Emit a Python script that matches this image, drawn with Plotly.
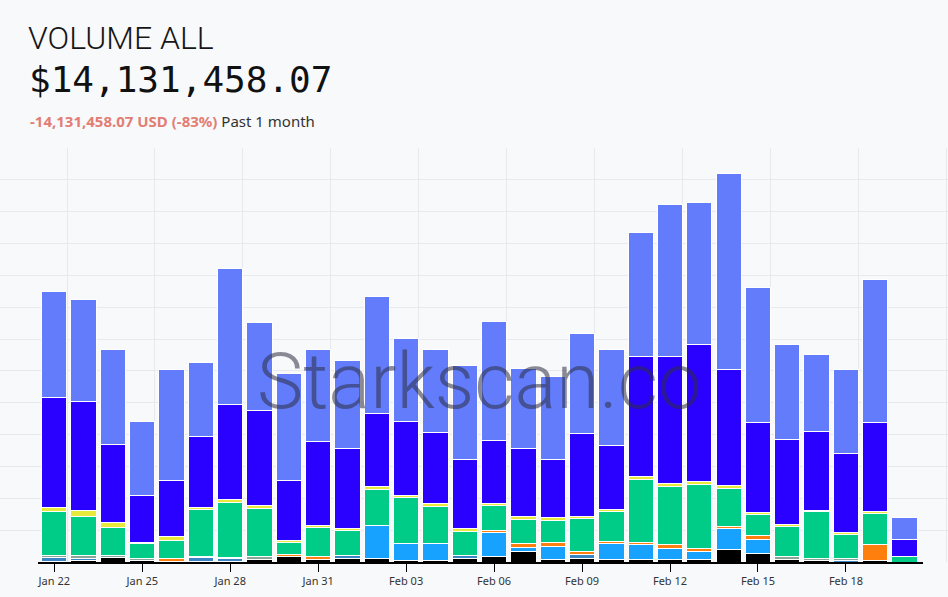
import plotly.graph_objects as go
import pandas as pd

# ---------------- data (thousand USD per day) ----------------
dates = pd.date_range("2024-01-22", "2024-02-20", freq="D")

black = [2, 3.4, 9.4, 4, 2, 2, 2, 6, 10.6, 6, 7, 7.4, 4, 3, 7.4, 11.4, 22, 5.4, 7.4, 6,
         5.4, 5.4, 5.4, 25.4, 17.4, 6, 4, 0, 4, 0]
steel = [8, 4.6, 0, 0, 0, 6.6, 5.4, 0, 0, 0, 7, 0, 0, 0, 5.2, 0, 0, 0, 8.6, 0,
         0, 0, 0, 0, 0, 0, 0, 4, 0, 0]
sky = [0, 0, 0, 0, 0, 0, 0, 0, 0, 0, 0, 65.2, 32.4, 35, 0, 47.2, 6.4, 26, 0, 30.6,
       30, 22, 15.2, 42, 28, 0, 0, 0, 0, 0]
orange = [0, 0, 0, 0, 5.4, 0, 0, 0, 5.4, 4.6, 0, 0, 0, 0, 0, 5.4, 8, 7.2, 4.6, 4,
          3.2, 8, 6.8, 3.2, 8.6, 0, 0, 0, 31.4, 0]
gray = [4, 5.4, 4.6, 3.4, 0, 2, 2.6, 4.6, 0, 0, 0, 0, 0, 0, 0, 0, 0, 0, 0, 0,
        0, 0, 0, 0, 0, 4.6, 3.4, 3.4, 0, 0]
green = [86.6, 78.6, 55.4, 30.6, 36.6, 95.4, 110, 96.8, 22.6, 58.8, 50, 73.4, 92.6, 73.4, 49.4,
         50, 49, 45.4, 66.8, 60, 127.4, 116.6, 128, 76.8, 42, 60, 93.2, 48.6, 62, 10.6]
yellow = [8, 11.4, 10, 1.4, 6.6, 2.6, 5.4, 5.2, 4, 3.6, 3, 4.6, 5, 6, 5.4, 3.4, 5.2, 4.6, 4.6, 4.8,
          4.6, 5.4, 5.2, 5.2, 2.6, 4.8, 3.4, 3.4, 4.6, 0]
dark = [220, 218, 155.2, 94.6, 113.4, 143.4, 190, 191.4, 121.4, 167.6, 161, 146.8, 148, 142, 138.6,
        126.6, 136.8, 117.4, 165.4, 127.2, 240, 254.6, 274.8, 233.4, 180, 170, 157.4, 157.2, 178, 34.6]
light = [212, 204, 191.4, 146.6, 221.4, 147.4, 272.6, 176, 213.4, 184.8, 174.6, 233.2, 165.4, 166.6, 188,
         236.6, 160, 166, 200, 193.4, 248.8, 304, 284, 390.6, 271.4, 189.2, 154, 168.8, 286, 43.4]

series = [
    ("black", black, "#000000"),
    ("steel", steel, "#3a86c4"),
    ("sky", sky, "#17a2ff"),
    ("orange", orange, "#ff7f0e"),
    ("gray", gray, "#88a596"),
    ("green", green, "#00cc88"),
    ("yellow", yellow, "#e9e93c"),
    ("dark", dark, "#2a00ff"),
    ("light", light, "#627cfb"),
]

title = "VOLUME ALL"
total_text = "$14,131,458.07"
change_text = "-14,131,458.07 USD (-83%)"
period_text = "Past 1 month"
watermark = "Starkscan.co"

# ---------------- geometry helpers (layout only) ----------------
W, H = 948, 597
M_T, M_B = 148, 35
PLOT_H = H - M_T - M_B
PX_PER_DAY = 29.32
X0_PX = 54.3  # pixel of first date
day0 = pd.Timestamp("2024-01-22")


def px2date(px):
    return (day0 + pd.Timedelta(days=(px - X0_PX) / PX_PER_DAY)).strftime("%Y-%m-%d %H:%M:%S")


def ypaper(px):
    return (H - M_B - px) / PLOT_H


YMAX = 828
GRID = YMAX / 13
DAY_MS = 86400000

fig = go.Figure()
# empty trace to own the full-width grid subplot
fig.add_trace(go.Scatter(x=[], y=[], xaxis="x", yaxis="y", showlegend=False, hoverinfo="skip"))

for name, vals, col in series:
    fig.add_trace(go.Bar(
        x=dates, y=vals, name=name, xaxis="x2", yaxis="y2",
        marker=dict(color=col, line=dict(color="white", width=1)),
        showlegend=False,
    ))

grid_col = "#e7e9ef"
fig.update_layout(
    width=W, height=H,
    margin=dict(l=0, r=0, t=M_T, b=M_B, pad=0),
    paper_bgcolor="#f8f9fb",
    plot_bgcolor="rgba(0,0,0,0)",
    barmode="stack",
    bargap=0.137,
    showlegend=False,
    xaxis=dict(domain=[0, 1], anchor="y", type="date",
               range=[px2date(0), px2date(W)],
               showgrid=True, gridcolor=grid_col, gridwidth=1,
               tick0="2024-01-22 10:24:00", dtick=3 * DAY_MS,
               showticklabels=False, ticks="", showline=False, zeroline=False),
    yaxis=dict(domain=[0, 1], anchor="x", range=[0, YMAX], dtick=GRID,
               showgrid=True, gridcolor=grid_col, gridwidth=1,
               showticklabels=False, ticks="", zeroline=False, showline=False),
    xaxis2=dict(domain=[38 / W, 923 / W], anchor="y2", type="date",
                range=[px2date(38), px2date(923)],
                showgrid=False, zeroline=False,
                showline=True, linecolor="#000000", linewidth=2,
                ticks="outside", ticklen=8, tickcolor="#000000", tickwidth=1,
                tick0="2024-01-22", dtick=3 * DAY_MS, tickformat="%b %d",
                tickfont=dict(family="Noto Sans", size=11, color="#333333")),
    yaxis2=dict(domain=[0, 1], anchor="x2", range=[0, YMAX],
                showgrid=False, zeroline=False, showline=False,
                showticklabels=False, ticks=""),
    annotations=[
        dict(text=title, xref="paper", yref="paper", x=26 / W, y=ypaper(38),
             xanchor="left", yanchor="middle", showarrow=False,
             font=dict(family="Roboto", size=32, color="#161616", weight=300)),
        dict(text=total_text, xref="paper", yref="paper", x=27 / W, y=ypaper(80),
             xanchor="left", yanchor="middle", showarrow=False,
             font=dict(family="DejaVu Sans Mono", size=36, color="#111111")),
        dict(text=f"<b><span style='color:#e27d74'>{change_text}</span></b> {period_text}",
             xref="paper", yref="paper", x=28 / W, y=ypaper(121),
             xanchor="left", yanchor="middle", showarrow=False,
             font=dict(family="Noto Sans", size=15, color="#333333")),
        dict(text=watermark, xref="paper", yref="paper", x=479 / W, y=ypaper(381),
             xanchor="center", yanchor="middle", showarrow=False,
             font=dict(family="Roboto", size=78, color="rgba(45,45,65,0.55)", weight=300)),
    ],
)

fig.write_html("out.html", config={"displayModeBar": False},
               post_script="document.body.style.margin='0';")
